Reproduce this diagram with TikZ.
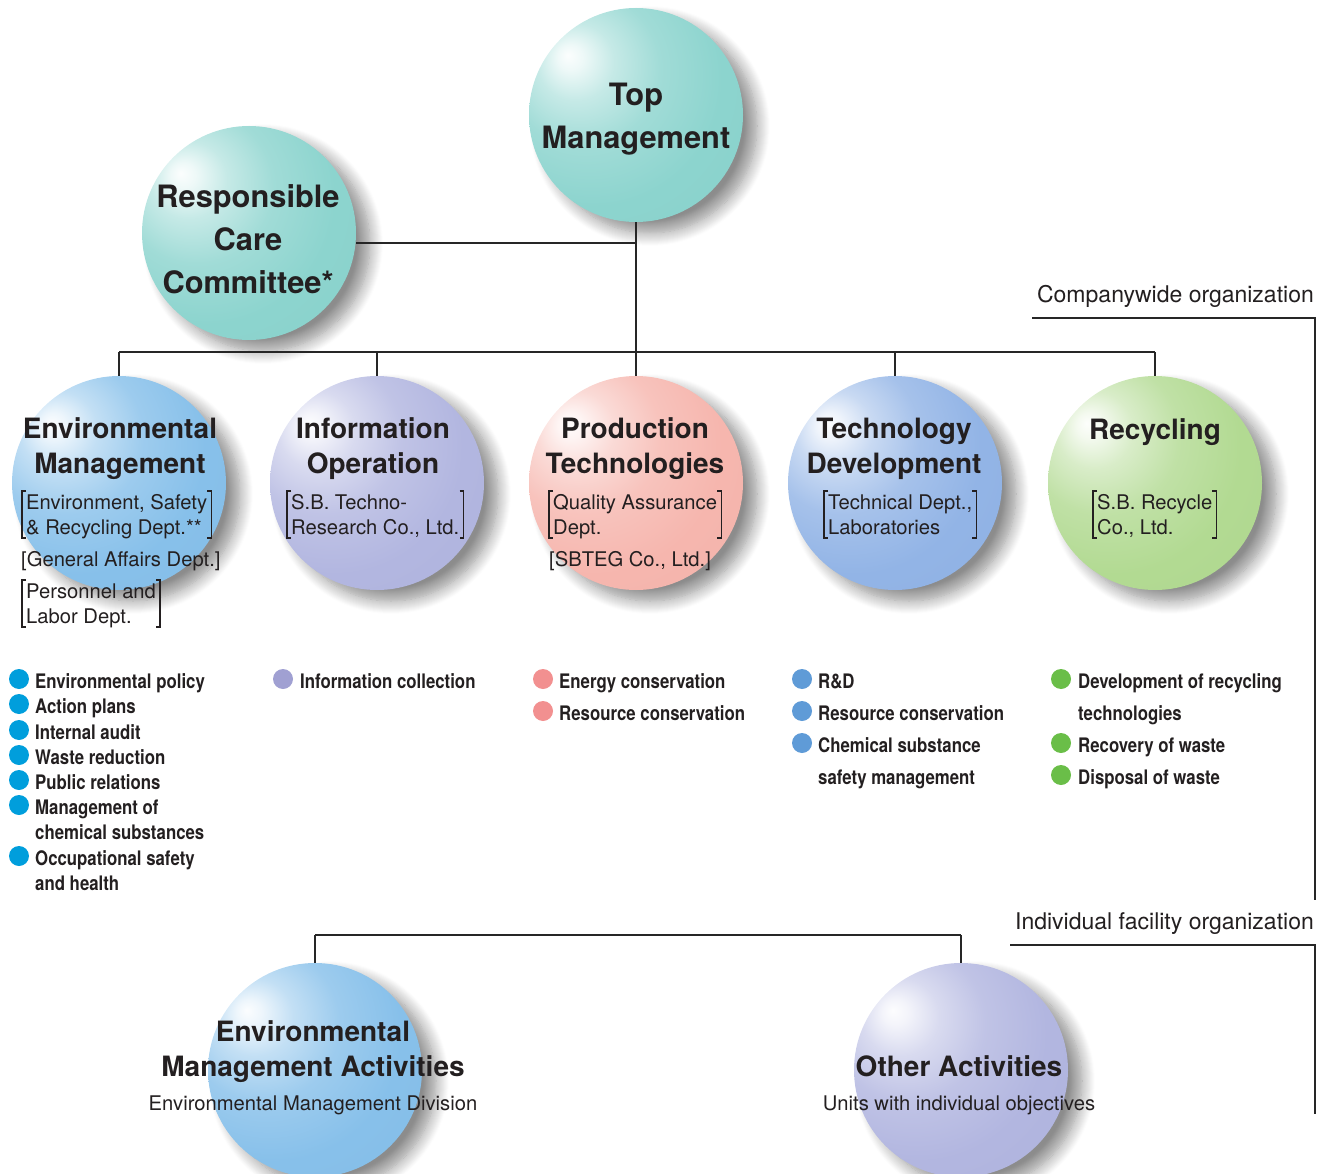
\documentclass[tikz,border=0pt]{standalone}
\usepackage{fontspec}
\setmainfont{TeX Gyre Heros}
\newfontfamily\condfont[FakeStretch=0.84]{TeX Gyre Heros}
\usetikzlibrary{shadows.blur}
\definecolor{cTeal}{RGB}{140,212,206}
\definecolor{cBlue}{RGB}{135,192,234}
\definecolor{cLav}{RGB}{178,182,224}
\definecolor{cPink}{RGB}{246,182,174}
\definecolor{cTech}{RGB}{146,180,230}
\definecolor{cGreen}{RGB}{178,218,146}
\definecolor{txt}{RGB}{35,31,32}
\definecolor{bEnv}{RGB}{0,158,220}
\definecolor{bInfo}{RGB}{160,160,210}
\definecolor{bProd}{RGB}{242,144,144}
\definecolor{bTech}{RGB}{95,155,215}
\definecolor{bRec}{RGB}{106,190,72}
\newcommand\mksph[2]{\pgfdeclareradialshading{#1}{\pgfpoint{-16bp}{14bp}}{%
 color(0bp)=(#2!3!white); color(3bp)=(#2!15!white); color(9bp)=(#2!50!white);
 color(18bp)=(#2!82!white); color(30bp)=(#2); color(78bp)=(#2!96!black)}}
\mksph{sTeal}{cTeal}
\mksph{sBlue}{cBlue}
\mksph{sLav}{cLav}
\mksph{sPink}{cPink}
\mksph{sTech}{cTech}
\mksph{sGreen}{cGreen}
% brackets around a two-line node whose base anchor is the last line
\newcommand\brk[1]{%
 \draw[brk] ([yshift=43pt]#1.base west) ++(4pt,0) -- ++(-4pt,0) -- ++(0,-47pt) -- ++(4pt,0);
 \draw[brk] ([yshift=43pt]#1.base east) ++(-4pt,0) -- ++(4pt,0) -- ++(0,-47pt) -- ++(-4pt,0);}
\tikzset{
 sph/.style={circle, minimum size=214pt, inner sep=0pt, shade,
   blur shadow={shadow xshift=14pt, shadow yshift=-11pt, shadow blur radius=13pt, shadow blur steps=14, shadow opacity=45}},
 conn/.style={draw=black!85, line width=1.2pt},
 brk/.style={draw=txt, line width=1.3pt},
 bigtitle/.style={align=center, font=\fontsize{30.8}{43}\selectfont\bfseries, text=txt, inner sep=0pt, anchor=base},
 title/.style={align=center, font=\fontsize{28}{34.5}\selectfont\bfseries, text=txt, inner sep=0pt, anchor=base},
 sub/.style={align=left, font=\fontsize{20.2}{25}\selectfont, text=txt, inner sep=0pt, anchor=base west},
 subb/.style={sub, inner xsep=4pt},
 lab/.style={font=\fontsize{23}{27}\selectfont, text=txt, inner sep=0pt, anchor=base east},
 item/.style={anchor=base west, inner sep=0pt, align=left, text=txt, font=\condfont\bfseries\fontsize{20}{25.5}\selectfont},
 itemw/.style={item, font=\condfont\bfseries\fontsize{20}{32.5}\selectfont},
 dot/.style={circle, inner sep=0pt, minimum size=20pt, fill=#1},
}
\begin{document}
\begin{tikzpicture}[x=1pt, y=-1pt]
\useasboundingbox (0,0) rectangle (1328,1174);
% spheres
\node[sph, shading=sTeal] (top) at (636,115) {};
\node[sph, shading=sTeal] (rcc) at (249,233) {};
\node[sph, shading=sBlue] (em) at (119,483) {};
\node[sph, shading=sLav] (io) at (377,483) {};
\node[sph, shading=sPink] (pt) at (636,483) {};
\node[sph, shading=sTech] (td) at (895,483) {};
\node[sph, shading=sGreen] (rec) at (1155,483) {};
\node[sph, shading=sBlue] (ema) at (315,1070) {};
\node[sph, shading=sLav] (oa) at (961,1070) {};
% connectors
\coordinate (bus) at (636,352);
\coordinate (rj) at (636,243);
\draw[conn] (top) -- (bus);
\draw[conn] (rcc.east |- rj) -- (rj);
\draw[conn] (bus -| em) -- (bus -| rec);
\foreach \n in {em,io,pt,td,rec} \draw[conn] (bus -| \n) -- (\n);
\coordinate (bbus) at (636,935);
\draw[conn] (bbus -| ema) -- (bbus -| oa);
\draw[conn] (bbus -| ema) -- (ema);
\draw[conn] (bbus -| oa) -- (oa);
% organization frames
\coordinate (cwa) at (1032,318); \coordinate (cwb) at (1315,318); \coordinate (cwc) at (1315,900);
\draw[conn] (cwa) -- (cwb) -- (cwc);
\coordinate (ifa) at (1010,945); \coordinate (ifb) at (1315,945); \coordinate (ifc) at (1315,1114);
\draw[conn] (ifa) -- (ifb) -- (ifc);
\node[lab] (cw) at (1314,303) {Companywide organization};
\node[lab] (ifo) at (1314,929) {Individual facility organization};
% titles (base = last line)
\node[bigtitle] (topt) at (636,149) {Top\\Management};
\node[bigtitle] (rcct) at (248,294) {Responsible\\Care\\Committee*};
\node[title] (emt) at (120,473) {Environmental\\Management};
\node[title] (iot) at (373,473) {Information\\Operation};
\node[title] (ptt) at (635,473) {Production\\Technologies};
\node[title] (tdt) at (894,473) {Technology\\Development};
\node[title] (rect) at (1155,439) {Recycling};
% sub texts
\node[subb] (ems1) at (22,534) {Environment, Safety\\\& Recycling Dept.**}; \brk{ems1}
\node[sub] (ems2) at (21,566) {[General Affairs Dept.]};
\node[subb] (ems3) at (22,623) {Personnel and\\Labor Dept.}; \brk{ems3}
\node[subb] (ios) at (287,534) {S.B. Techno-\\Research Co., Ltd.}; \brk{ios}
\node[subb] (pts1) at (549,534) {Quality Assurance\\Dept.}; \brk{pts1}
\node[sub] (pts2) at (549,566) {[SBTEG Co., Ltd.]};
\node[subb] (tds) at (824,534) {Technical Dept.,\\Laboratories}; \brk{tds}
\node[subb] (recs) at (1093,534) {S.B. Recycle\\Co., Ltd.}; \brk{recs}
% bullet lists: dot y / last-line baseline / text
\foreach \d/\y/\t [count=\i] in {679/688/Environmental policy, 704/713/Action plans, 730/739/Internal audit, 755/764/Waste reduction, 780/789/Public relations, 805/839.5/{Management of\\chemical substances}, 856/890.5/{Occupational safety\\and health}}{
  \node[dot=bEnv] (ed\i) at (19,\d) {};
  \node[item] (ei\i) at (35,\y) {\t};
}
\node[dot=bInfo] (id1) at (283,679) {};
\node[item] (ii1) at (300,688) {Information collection};
\node[dot=bProd] (pd1) at (543,679) {};
\node[item] (pi1) at (559,688) {Energy conservation};
\node[dot=bProd] (pd2) at (543,711) {};
\node[item] (pi2) at (559,720) {Resource conservation};
\node[dot=bTech] (td1) at (802,679) {};
\node[item] (ti1) at (818,688) {R\&D};
\node[dot=bTech] (td2) at (802,711) {};
\node[item] (ti2) at (818,720) {Resource conservation};
\node[dot=bTech] (td3) at (802,743) {};
\node[itemw] (ti3) at (818,784.5) {Chemical substance\\safety management};
\node[dot=bRec] (rd1) at (1061,679) {};
\node[itemw] (ri1) at (1078,720.5) {Development of recycling\\technologies};
\node[dot=bRec] (rd2) at (1061,743) {};
\node[item] (ri2) at (1078,752) {Recovery of waste};
\node[dot=bRec] (rd3) at (1061,775) {};
\node[item] (ri3) at (1078,784) {Disposal of waste};
% bottom texts
\node[title] (emat) at (313,1076) {Environmental\\Management Activities};
\node[sub, anchor=base] (emas) at (313,1110) {Environmental Management Division};
\node[title] (oat) at (959,1076) {Other Activities};
\node[sub, anchor=base] (oas) at (959,1110) {Units with individual objectives};
\end{tikzpicture}
\end{document}
